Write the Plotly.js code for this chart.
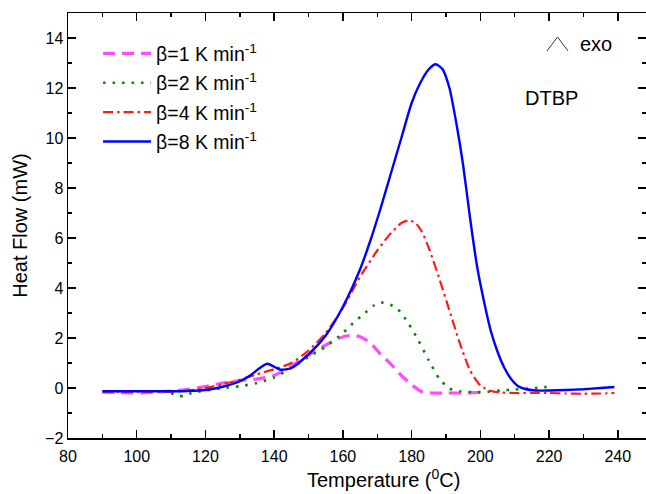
<!DOCTYPE html>
<html>
<head>
<meta charset="utf-8">
<script src="https://cdn.plot.ly/plotly-3.0.1.min.js"></script>
<style>html,body{margin:0;padding:0;background:#fff}#chart{width:646px;height:494px}</style>
</head>
<body>
<div id="chart"></div>
<script>
// beta = 1 K/min (magenta dashed)
const T1 = [90, 95, 100, 105, 110, 115, 120, 125, 130, 135, 140, 145, 150, 155, 158, 161, 163, 165, 168, 171, 174, 177, 180, 183, 186, 190, 195, 200];
const HF1 = [-0.17, -0.18, -0.2, -0.17, -0.12, -0.05, 0.06, 0.2, 0.3, 0.36, 0.5, 0.88, 1.32, 1.72, 1.95, 2.08, 2.1, 2.05, 1.8, 1.35, 0.95, 0.5, 0.13, -0.15, -0.2, -0.2, -0.2, -0.18];
// beta = 2 K/min (green dotted)
const T2 = [110, 112, 114, 116, 120, 125, 130, 135, 140, 145, 150, 155, 160, 163, 166, 169, 171, 173, 176, 179, 182, 185, 188, 191, 194, 198, 202, 206, 210, 214, 218, 220];
const HF2 = [-0.2, -0.3, -0.33, -0.2, -0.1, 0.0, 0.07, 0.2, 0.42, 0.8, 1.25, 1.65, 2.2, 2.6, 2.95, 3.3, 3.42, 3.38, 3.15, 2.6, 1.9, 1.1, 0.38, -0.02, -0.13, -0.17, -0.15, -0.1, -0.06, -0.02, 0.02, 0.06];
// beta = 4 K/min (red dash-dot)
const T3 = [90, 95, 100, 105, 110, 115, 120, 125, 130, 135, 140, 145, 150, 155, 160, 165, 170, 174, 177, 179, 181, 183, 185, 188, 191, 194, 197, 200, 203, 206, 210, 215, 220, 225, 230, 235, 239];
const HF3 = [-0.15, -0.15, -0.15, -0.15, -0.15, -0.1, 0.0, 0.15, 0.33, 0.55, 0.75, 1.0, 1.5, 2.2, 3.2, 4.45, 5.5, 6.2, 6.6, 6.7, 6.62, 6.25, 5.6, 4.4, 3.1, 1.8, 0.7, 0.1, -0.12, -0.18, -0.2, -0.2, -0.2, -0.22, -0.23, -0.22, -0.2];
// beta = 8 K/min (blue solid)
const T4 = [90, 95, 100, 105, 110, 115, 120, 125, 130, 133, 136, 138, 140, 142, 145, 150, 155, 160, 165, 168, 171, 174, 177, 180, 182.5, 185, 187, 189, 191, 193, 195, 197, 199, 201, 203, 205, 207, 209, 211, 213, 216, 220, 225, 230, 235, 239];
const HF4 = [-0.13, -0.13, -0.13, -0.13, -0.13, -0.12, -0.08, 0.05, 0.27, 0.5, 0.82, 0.97, 0.85, 0.73, 0.8, 1.35, 2.1, 3.25, 4.75, 5.9, 7.2, 8.6, 10.0, 11.4, 12.2, 12.75, 12.95, 12.75, 12.0, 10.6, 8.9, 6.8, 4.9, 3.5, 2.3, 1.45, 0.8, 0.35, 0.07, -0.04, -0.1, -0.1, -0.08, -0.05, 0.0, 0.04];

const seriesNames = ['β=1 K min<sup>-1</sup>', 'β=2 K min<sup>-1</sup>', 'β=4 K min<sup>-1</sup>', 'β=8 K min<sup>-1</sup>'];
const xTitle = 'Temperature (<sup>0</sup>C)';
const yTitle = 'Heat Flow (mW)';

const FONT = 'Arial, "Liberation Sans", sans-serif';

const traces = [
  {x: T1, y: HF1, name: seriesNames[0], line: {color: '#ff4cff', width: 3.2, dash: '12px,7px', shape: 'spline', smoothing: 0.6}},
  {x: T2, y: HF2, name: seriesNames[1], line: {color: '#008a00', width: 2.6, dash: '2.5px,7px', shape: 'spline', smoothing: 0.6}},
  {x: T3, y: HF3, name: seriesNames[2], line: {color: '#ff1a1a', width: 2.2, dash: '10px,4px,2.5px,4px', shape: 'spline', smoothing: 0.6}},
  {x: T4, y: HF4, name: seriesNames[3], line: {color: '#0000ff', width: 2.4, shape: 'spline', smoothing: 0.6}}
].map((t, i) => Object.assign(t, {type: 'scatter', mode: 'lines', legendgroup: 'g' + i}));

const axisCommon = {
  showline: true, linecolor: '#000', linewidth: 1.5, mirror: 'ticks',
  ticks: 'inside', ticklen: 8, tickwidth: 1.5, tickcolor: '#000',
  showgrid: false, zeroline: false,
  tickfont: {family: FONT, size: 16, color: '#000'}
};

const layout = {
  width: 646, height: 494,
  margin: {l: 68, r: 0, t: 13, b: 56, autoexpand: false},
  paper_bgcolor: '#fff', plot_bgcolor: '#fff',
  showlegend: true,
  legend: {
    x: 0.052, y: 0.95, xanchor: 'left', yanchor: 'top',
    font: {family: FONT, size: 19.5, color: '#000'},
    bgcolor: 'rgba(0,0,0,0)', tracegroupgap: 1, itemwidth: 48
  },
  xaxis: Object.assign({}, axisCommon, {
    range: [80, 248.2], tick0: 80, dtick: 20, ticklabelstandoff: 3,
    minor: {dtick: 10, ticks: 'inside', ticklen: 4, tickwidth: 1.5, tickcolor: '#000'}
  }),
  yaxis: Object.assign({}, axisCommon, {
    range: [-2, 15], tick0: -2, dtick: 2,
    minor: {dtick: 1, ticks: 'inside', ticklen: 4, tickwidth: 1.5, tickcolor: '#000'},
    title: {text: yTitle, font: {family: FONT, size: 20, color: '#000'}, standoff: 12}
  }),
  annotations: [
    {xref: 'paper', yref: 'paper', x: 0.546, y: -0.096, xanchor: 'center', yanchor: 'middle', text: xTitle, showarrow: false, font: {family: FONT, size: 20, color: '#000'}},
    {xref: 'paper', yref: 'paper', x: 0.883, y: 0.927, xanchor: 'left', yanchor: 'middle', text: 'exo', showarrow: false, font: {family: FONT, size: 20, color: '#000'}},
    {xref: 'paper', yref: 'paper', x: 0.836, y: 0.8, xanchor: 'center', yanchor: 'middle', text: 'DTBP', showarrow: false, font: {family: FONT, size: 20, color: '#000'}}
  ],
  shapes: [
    {type: 'path', xref: 'paper', yref: 'paper', path: 'M 0.8287 0.9107 L 0.8469 0.9436 L 0.8651 0.9107', line: {color: '#333', width: 1}}
  ]
};

Plotly.newPlot('chart', traces, layout, {displayModeBar: false, staticPlot: true});
</script>
</body>
</html>
